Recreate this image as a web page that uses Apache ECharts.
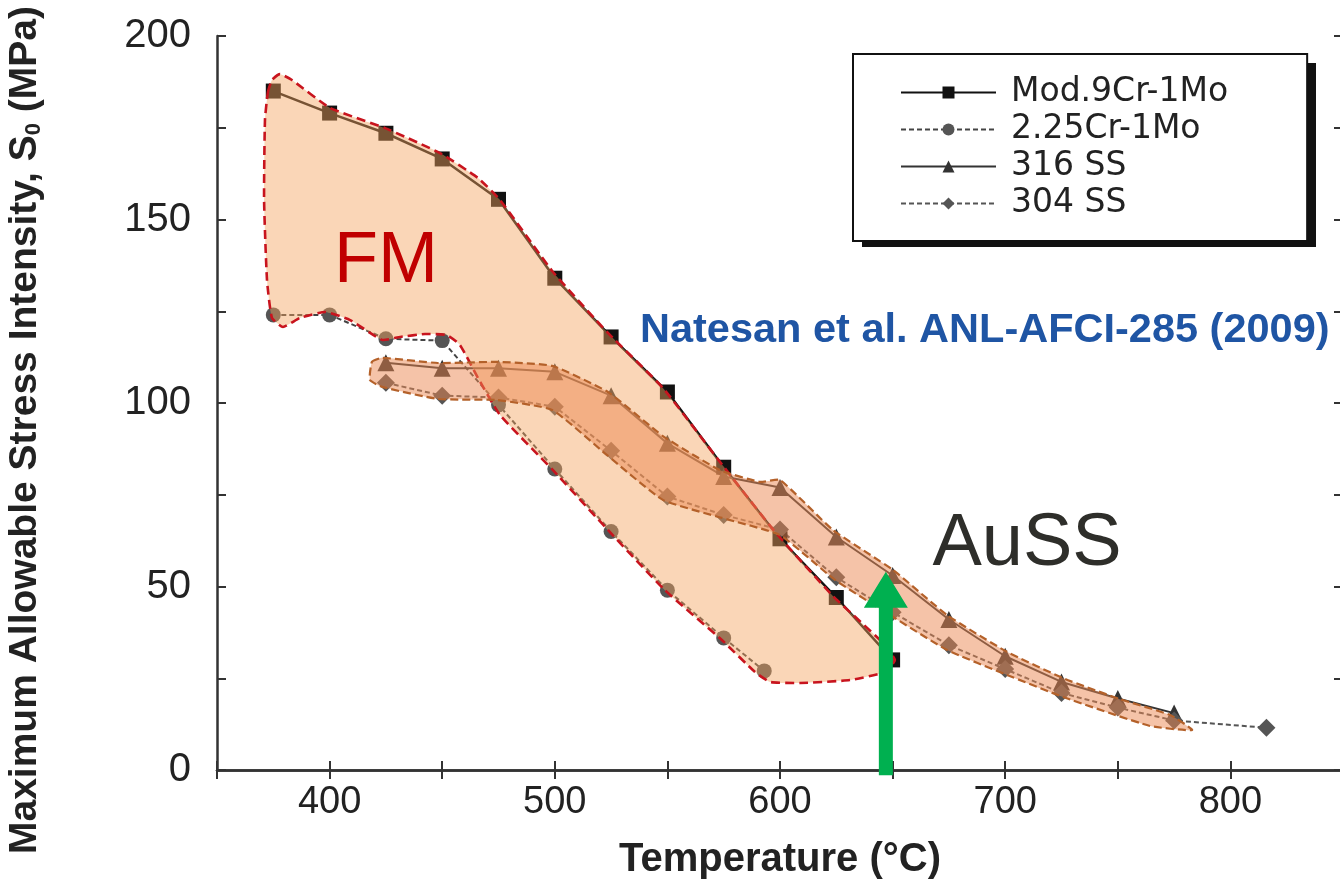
<!DOCTYPE html>
<html><head><meta charset="utf-8">
<script src="https://cdn.jsdelivr.net/npm/echarts@6/dist/echarts.min.js"></script>
<style>html,body{margin:0;padding:0;background:#fff}#c{width:1340px;height:879px}</style>
</head><body><div id="c"></div>
<script>
// ---- data ----
const tempsMod9 = [375,400,425,450,475,500,525,550,575,600,625,650];
const mod9Cr    = [185,179,173.5,166.5,155.5,134,118,103,82.5,63,47,30];
const temps225  = [375,400,425,450,475,500,525,550,575,593];
const cr225     = [124,124,117.5,117,99.5,82,65,49,36,27];
const temps316  = [425,450,475,500,525,550,575,600,625,650,675,700,725,750,775];
const ss316     = [111,109.5,109.5,108.5,102,89,80,77,63.5,53,41,31,24,19.5,15.5];
const temps304  = [425,450,475,500,525,550,575,600,625,650,675,700,725,750,775,816];
const ss304     = [105.5,102,101.5,99,87,74.5,69.5,65.5,52.5,43,34,27.5,21,17,13.5,11.5];
const seriesNames = ['Mod.9Cr-1Mo','2.25Cr-1Mo','316 SS','304 SS'];
const xTickLabels = [400,500,600,700,800];
const yTickLabels = [0,50,100,150,200];
// hand-drawn FM region outline (temperature, stress)
const fmT = [372.6,374.4,378,383.3,400.2,424.6,449,465.9,475.7,499.2,523.6,548,573.4,597.8,623.5,644.4,651,646.6,631,608.9,595.6,588.9,574.2,548.9,523.6,499.2,475.7,465.9,457.9,452.1,442.4,431.3,423.3,409.1,398,386.9,379.3,374.4,372.2,370.9,371.3];
const fmS = [184.7,188,189.6,188,180.4,174.9,168.1,161.3,155.3,135.7,119.1,104.1,83.9,64.9,47.4,35.4,30,26.7,24.5,23.7,24,26.7,35.4,49,65.4,81.7,96.7,106.8,115.8,118.5,118.8,118,117.2,122.6,124.8,123.2,120.7,123.2,133.5,155.3,177.1];
// hand-drawn AuSS band outline (temperature, stress)
const auT = [418.8,423.3,448.1,474.3,498.8,523.6,548,573.4,591.1,600,623.5,650.2,674.2,700.8,726.6,751,773.2,783,764.3,725.7,700.8,674.2,650.2,624.4,600,574.2,548,523.2,498.8,474.3,448.1,423.3,417.9];
const auS = [111.2,112.3,110.9,111.2,110.1,103,91,81.7,78.5,79,65.4,54.5,42.2,32.2,24.8,19.3,15,10.9,12,19.9,25.9,32.7,41.7,51.8,64,68.7,73.6,85.8,98.1,100.8,101.1,104.4,106.3];
// green arrow: temperature, bottom stress, tip stress
const arrow = [[647,-1.4,54]];

const pair = (xs, ys) => xs.map((x, i) => [x, ys[i]]);
const fontMain = '"Liberation Sans", Arial, Helvetica, sans-serif';

const chart = echarts.init(document.getElementById('c'), null, {renderer:'canvas'});

function polyItem(ts, ss, style) {
  return function (params, api) {
    const pts = ts.map((t, i) => api.coord([t, ss[i]]));
    return {type:'polygon', shape:{points:pts, smooth:0.15}, style:style, silent:true};
  };
}

const axisLineStyle = {color:'#333', width:2.5};
const tickStyle = {show:true, inside:true, length:9, lineStyle:{color:'#333', width:2}};

chart.setOption({
  backgroundColor:'#fff',
  animation:false,
  grid:{left:217, top:36, width:1126, height:734, containLabel:false, outerBoundsMode:'none'},
  xAxis:[{
    type:'value', min:350, max:850, interval:50, position:'bottom',
    axisLine:{show:true, lineStyle:axisLineStyle},
    axisTick:tickStyle,
    splitLine:{show:false},
    axisLabel:{formatter:v => xTickLabels.includes(v) ? String(v) : '', fontSize:38, color:'#222', margin:14, fontFamily:fontMain},
    name:'Temperature (°C)', nameLocation:'middle', nameGap:70,
    nameTextStyle:{fontSize:40, fontWeight:'bold', color:'#222', fontFamily:fontMain}
  },{
    type:'value', min:350, max:850, interval:50, position:'top',
    axisLine:{show:true, lineStyle:axisLineStyle},
    axisTick:tickStyle, axisLabel:{show:false}, splitLine:{show:false}
  }],
  yAxis:[{
    type:'value', min:0, max:200, interval:25, position:'left',
    axisLine:{show:true, lineStyle:axisLineStyle},
    axisTick:tickStyle,
    splitLine:{show:false},
    axisLabel:{formatter:v => yTickLabels.includes(v) ? String(v) : '', fontSize:40, color:'#222', margin:26, fontFamily:fontMain},
    name:'Maximum Allowable Stress Intensity, S{sub|0} (MPa){sp|}', nameLocation:'middle', nameGap:172,
    nameTextStyle:{fontSize:39, fontWeight:'bold', color:'#222', fontFamily:fontMain,
      rich:{
        sub:{fontSize:22, fontWeight:'bold', color:'#222', fontFamily:fontMain, verticalAlign:'bottom', padding:[14,0,0,0]},
        sp:{width:54, fontSize:39}
      }}
  },{
    type:'value', min:0, max:200, interval:25, position:'right',
    axisLine:{show:true, lineStyle:axisLineStyle},
    axisTick:tickStyle, axisLabel:{show:false}, splitLine:{show:false}
  }],
  legend:{
    data:seriesNames, orient:'vertical', left:853, top:54, z:5,
    padding:[22,79,21,47], itemGap:4, itemWidth:95, itemHeight:15,
    selectedMode:false,
    backgroundColor:'#fff', borderColor:'#111', borderWidth:2,
    textStyle:{fontSize:33, color:'#222', fontFamily:'"DejaVu Sans", sans-serif', lineHeight:30, padding:[0,0,0,10]}
  },
  graphic:[
    {type:'rect', z:1, silent:true, shape:{x:862, y:63, width:454, height:184}, style:{fill:'#111'}},
    {type:'text', x:386, y:262, silent:true, z:50,
      style:{text:'FM', fontSize:72, fontFamily:fontMain, fill:'#C00000', align:'center', verticalAlign:'middle'}},
    {type:'text', x:1027, y:545, silent:true, z:50,
      style:{text:'AuSS', fontSize:74, fontFamily:fontMain, fill:'#2E2E2A', align:'center', verticalAlign:'middle'}},
    {type:'text', x:640, y:331, silent:true, z:50,
      style:{text:'Natesan et al. ANL-AFCI-285 (2009)', fontSize:41.5, fontWeight:'bold', fontFamily:fontMain, fill:'#1F55A4', align:'left', verticalAlign:'middle'}}
  ],
  series:[
    {name:seriesNames[0], type:'line', data:pair(tempsMod9, mod9Cr), z:2,
      symbol:'rect', symbolSize:15, itemStyle:{color:'#111'}, lineStyle:{color:'#111', width:2.5}},
    {name:seriesNames[1], type:'line', data:pair(temps225, cr225), z:2,
      symbol:'circle', symbolSize:15, itemStyle:{color:'#555'}, lineStyle:{color:'#444', width:2, type:[5,3]}},
    {name:seriesNames[2], type:'line', data:pair(temps316, ss316), z:2,
      symbol:'triangle', symbolSize:17, itemStyle:{color:'#333'}, lineStyle:{color:'#333', width:2}},
    {name:seriesNames[3], type:'line', data:pair(temps304, ss304), z:2,
      symbol:'diamond', symbolSize:18, itemStyle:{color:'#555'}, lineStyle:{color:'#555', width:2, type:[5,3]}},
    {name:'FM region', type:'custom', z:3, silent:true, data:[[fmT[0], fmS[0]]],
      renderItem:polyItem(fmT, fmS, {fill:'rgba(243,165,95,0.45)', stroke:'#C8141E', lineWidth:2.6, lineDash:[9,5]})},
    {name:'AuSS region', type:'custom', z:4, silent:true, data:[[auT[0], auS[0]]],
      renderItem:polyItem(auT, auS, {fill:'rgba(235,135,81,0.5)', stroke:'#B4612A', lineWidth:2.2, lineDash:[8,4]})},
    {name:'arrow', type:'custom', z:10, silent:true, data:arrow,
      encode:{x:0, y:[1,2]},
      renderItem:function(params, api){
        const b = api.coord([api.value(0), api.value(1)]);
        const t = api.coord([api.value(0), api.value(2)]);
        const sw = 7, hw = 22, hl = 36, x = b[0];
        const pts = [[x-sw,b[1]],[x-sw,t[1]+hl],[x-hw,t[1]+hl],[x,t[1]],[x+hw,t[1]+hl],[x+sw,t[1]+hl],[x+sw,b[1]]];
        return {type:'polygon', shape:{points:pts}, style:{fill:'#00B050'}, silent:true};
      }}
  ]
});
</script></body></html>
